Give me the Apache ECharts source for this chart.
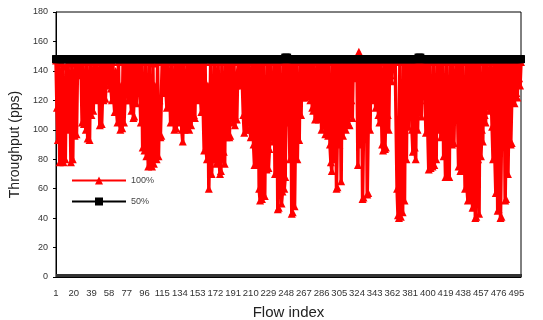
<!DOCTYPE html>
<html>
<head>
<meta charset="utf-8">
<script src="https://cdn.jsdelivr.net/npm/echarts@6/dist/echarts.min.js"></script>
<style>
  html, body { margin: 0; padding: 0; background: #fff; }
  #chart { width: 543px; height: 320px; }
</style>
</head>
<body>
<div id="chart"></div>
<script>
// flow ids 1..500
const flows = []
for (let i = 1; i <= 500; i++) flows.push(String(i))

// throughput at 100% load (pps)
const load100 = [
  147, 115, 93, 146, 78, 140, 79, 145, 78, 120, 80, 143, 100, 146, 101, 130, 78, 145, 80, 139,
  96, 146, 97, 140, 137, 147, 146, 138, 105, 146, 104, 125, 100, 147, 94, 130, 93, 146, 110, 125,
  113, 147, 125, 120, 146, 121, 135, 103, 146, 104, 125, 120, 147, 121, 140, 147, 147, 130, 146, 128,
  120, 146, 121, 112, 140, 113, 105, 146, 106, 100, 130, 101, 146, 105, 120, 146, 147, 147, 120, 146,
  121, 113, 146, 108, 109, 146, 118, 130, 125, 147, 147, 105, 146, 88, 120, 86, 146, 82, 110, 75,
  146, 76, 100, 75, 145, 77, 130, 90, 80, 146, 82, 120, 95, 96, 146, 125, 147, 147, 146, 115,
  146, 116, 130, 105, 146, 106, 120, 100, 146, 101, 130, 146, 120, 105, 146, 100, 92, 146, 100, 125,
  101, 146, 110, 100, 146, 103, 125, 146, 110, 108, 146, 125, 120, 146, 147, 147, 112, 146, 113, 86,
  146, 87, 80, 130, 60, 100, 146, 70, 85, 80, 146, 81, 77, 120, 146, 80, 70, 72, 146, 100,
  85, 77, 146, 95, 110, 146, 95, 96, 146, 120, 105, 146, 103, 130, 107, 140, 147, 147, 130, 146,
  131, 110, 98, 146, 100, 100, 125, 146, 101, 95, 96, 146, 90, 76, 146, 77, 110, 146, 60, 52,
  146, 53, 90, 146, 55, 120, 73, 146, 74, 87, 146, 95, 120, 92, 146, 70, 100, 146, 46, 47,
  146, 90, 50, 58, 146, 60, 68, 146, 105, 147, 146, 80, 146, 43, 44, 146, 48, 100, 146, 80,
  120, 93, 146, 110, 146, 122, 140, 122, 146, 123, 130, 146, 125, 120, 146, 115, 113, 146, 107, 125,
  108, 146, 107, 120, 146, 100, 130, 146, 110, 97, 146, 98, 96, 146, 90, 78, 72, 146, 80, 110,
  146, 60, 61, 146, 90, 146, 65, 146, 96, 120, 146, 100, 125, 146, 104, 103, 146, 120, 108, 146,
  135, 147, 138, 146, 76, 153, 146, 90, 146, 53, 54, 146, 100, 146, 56, 57, 146, 100, 146, 147,
  147, 120, 146, 115, 130, 146, 110, 105, 146, 120, 90, 86, 146, 87, 88, 146, 110, 100, 146, 137,
  133, 147, 147, 147, 147, 146, 60, 42, 40, 146, 41, 100, 44, 146, 52, 146, 80, 146, 102, 146,
  110, 146, 100, 85, 146, 88, 80, 146, 100, 130, 146, 120, 109, 146, 132, 147, 147, 98, 146, 99,
  73, 146, 74, 120, 75, 146, 76, 110, 80, 146, 100, 120, 146, 95, 130, 146, 82, 100, 68, 146,
  69, 120, 68, 146, 100, 90, 146, 91, 125, 107, 146, 110, 75, 146, 72, 73, 146, 75, 100, 60,
  146, 61, 52, 146, 53, 90, 146, 47, 48, 146, 40, 41, 146, 80, 43, 146, 82, 100, 92, 146,
  110, 105, 146, 117, 130, 113, 146, 147, 102, 80, 146, 81, 57, 146, 45, 46, 146, 40, 41, 146,
  90, 146, 52, 53, 146, 70, 110, 146, 90, 91, 146, 130, 118, 146, 125, 122, 146, 135, 130, 146
]

// throughput at 50% load (pps)
const load50 = [
  148, 148, 148, 148, 148, 148, 148, 148, 148, 148, 148, 148, 148, 148, 148, 148, 148, 148, 148, 148,
  148, 148, 148, 148, 148, 148, 148, 148, 148, 148, 148, 148, 148, 148, 148, 148, 148, 148, 148, 148,
  148, 148, 148, 148, 148, 148, 148, 148, 148, 148, 148, 148, 148, 148, 148, 148, 148, 148, 148, 148,
  148, 148, 148, 148, 148, 148, 148, 148, 148, 148, 148, 148, 148, 148, 148, 148, 148, 148, 148, 148,
  148, 148, 148, 148, 148, 148, 148, 148, 148, 148, 148, 148, 148, 148, 148, 148, 148, 148, 148, 148,
  148, 148, 148, 148, 148, 148, 148, 148, 148, 148, 148, 148, 148, 148, 148, 148, 148, 148, 148, 148,
  148, 148, 148, 148, 148, 148, 148, 148, 148, 148, 148, 148, 148, 148, 148, 148, 148, 148, 148, 148,
  148, 148, 148, 148, 148, 148, 148, 148, 148, 148, 148, 148, 148, 148, 148, 148, 148, 148, 148, 148,
  148, 148, 148, 148, 148, 148, 148, 148, 148, 148, 148, 148, 148, 148, 148, 148, 148, 148, 148, 148,
  148, 148, 148, 148, 148, 148, 148, 148, 148, 148, 148, 148, 148, 148, 148, 148, 148, 148, 148, 148,
  148, 148, 148, 148, 148, 148, 148, 148, 148, 148, 148, 148, 148, 148, 148, 148, 148, 148, 148, 148,
  148, 148, 148, 148, 148, 148, 148, 148, 148, 148, 148, 148, 148, 148, 148, 148, 148, 148, 148, 148,
  148, 148, 148, 148, 148, 148, 149, 149, 149, 148, 148, 148, 148, 148, 148, 148, 148, 148, 148, 148,
  148, 148, 148, 148, 148, 148, 148, 148, 148, 148, 148, 148, 148, 148, 148, 148, 148, 148, 148, 148,
  148, 148, 148, 148, 148, 148, 148, 148, 148, 148, 148, 148, 148, 148, 148, 148, 148, 148, 148, 148,
  148, 148, 148, 148, 148, 148, 148, 148, 148, 148, 148, 148, 148, 148, 148, 148, 148, 148, 148, 148,
  148, 148, 148, 148, 148, 148, 148, 148, 148, 148, 148, 148, 148, 148, 148, 148, 148, 148, 148, 148,
  148, 148, 148, 148, 148, 148, 148, 148, 148, 148, 148, 148, 148, 148, 148, 148, 148, 148, 148, 148,
  148, 148, 148, 148, 148, 148, 148, 148, 148, 148, 148, 148, 148, 148, 148, 148, 148, 148, 148, 148,
  148, 148, 148, 148, 148, 148, 148, 148, 148, 149, 149, 149, 148, 148, 148, 148, 148, 148, 148, 148,
  148, 148, 148, 148, 148, 148, 148, 148, 148, 148, 148, 148, 148, 148, 148, 148, 148, 148, 148, 148,
  148, 148, 148, 148, 148, 148, 148, 148, 148, 148, 148, 148, 148, 148, 148, 148, 148, 148, 148, 148,
  148, 148, 148, 148, 148, 148, 148, 148, 148, 148, 148, 148, 148, 148, 148, 148, 148, 148, 148, 148,
  148, 148, 148, 148, 148, 148, 148, 148, 148, 148, 148, 148, 148, 148, 148, 148, 148, 148, 148, 148,
  148, 148, 148, 148, 148, 148, 148, 148, 148, 148, 148, 148, 148, 148, 148, 148, 148, 148, 148, 148
]

const font = 'Liberation Sans, Arial, sans-serif'

const chart = echarts.init(document.getElementById('chart'))
chart.setOption({
  animation: false,
  textStyle: { fontFamily: font },
  grid: {
    left: 56,
    right: 22,
    top: 12,
    bottom: 43,
    outerBoundsMode: 'none',
    show: true,
    borderColor: '#000',
    borderWidth: 1,
  },
  legend: {
    orient: 'vertical',
    left: 71,
    top: 176,
    padding: 0,
    itemWidth: 54,
    itemHeight: 10,
    itemGap: 12,
    textStyle: { fontSize: 9, color: '#444', fontFamily: font },
    data: ['100%', '50%'],
  },
  xAxis: {
    type: 'category',
    data: flows,
    boundaryGap: false,
    name: 'Flow index',
    nameLocation: 'middle',
    nameGap: 28,
    nameTextStyle: { fontSize: 15, color: '#222', fontFamily: font },
    axisLine: { lineStyle: { color: '#000', width: 1 } },
    axisTick: { interval: 0, inside: true, length: 3, lineStyle: { color: '#333' } },
    axisLabel: { interval: 18, fontSize: 9.5, color: '#333', margin: 11 },
    splitLine: { show: false },
  },
  yAxis: {
    type: 'value',
    min: 0,
    max: 180,
    interval: 20,
    name: 'Throughput (pps)',
    nameLocation: 'middle',
    nameGap: 34,
    nameTextStyle: { fontSize: 14, color: '#222', fontFamily: font },
    axisLine: { show: true, lineStyle: { color: '#000' } },
    axisTick: { show: true, length: 3, lineStyle: { color: '#000' } },
    axisLabel: { fontSize: 9, color: '#333', margin: 8 },
    splitLine: { show: false },
  },
  series: [
    {
      name: '100%',
      type: 'line',
      data: load100,
      color: '#ff0000',
      symbol: 'triangle',
      symbolSize: 8,
      showAllSymbol: true,
      lineStyle: { color: '#ff0000', width: 3.5 },
      itemStyle: { color: '#ff0000' },
    },
    {
      name: '50%',
      type: 'line',
      data: load50,
      color: '#000',
      symbol: 'rect',
      symbolSize: 8,
      showAllSymbol: true,
      lineStyle: { color: '#000', width: 3 },
      itemStyle: { color: '#000' },
    },
  ],
})
</script>
</body>
</html>
